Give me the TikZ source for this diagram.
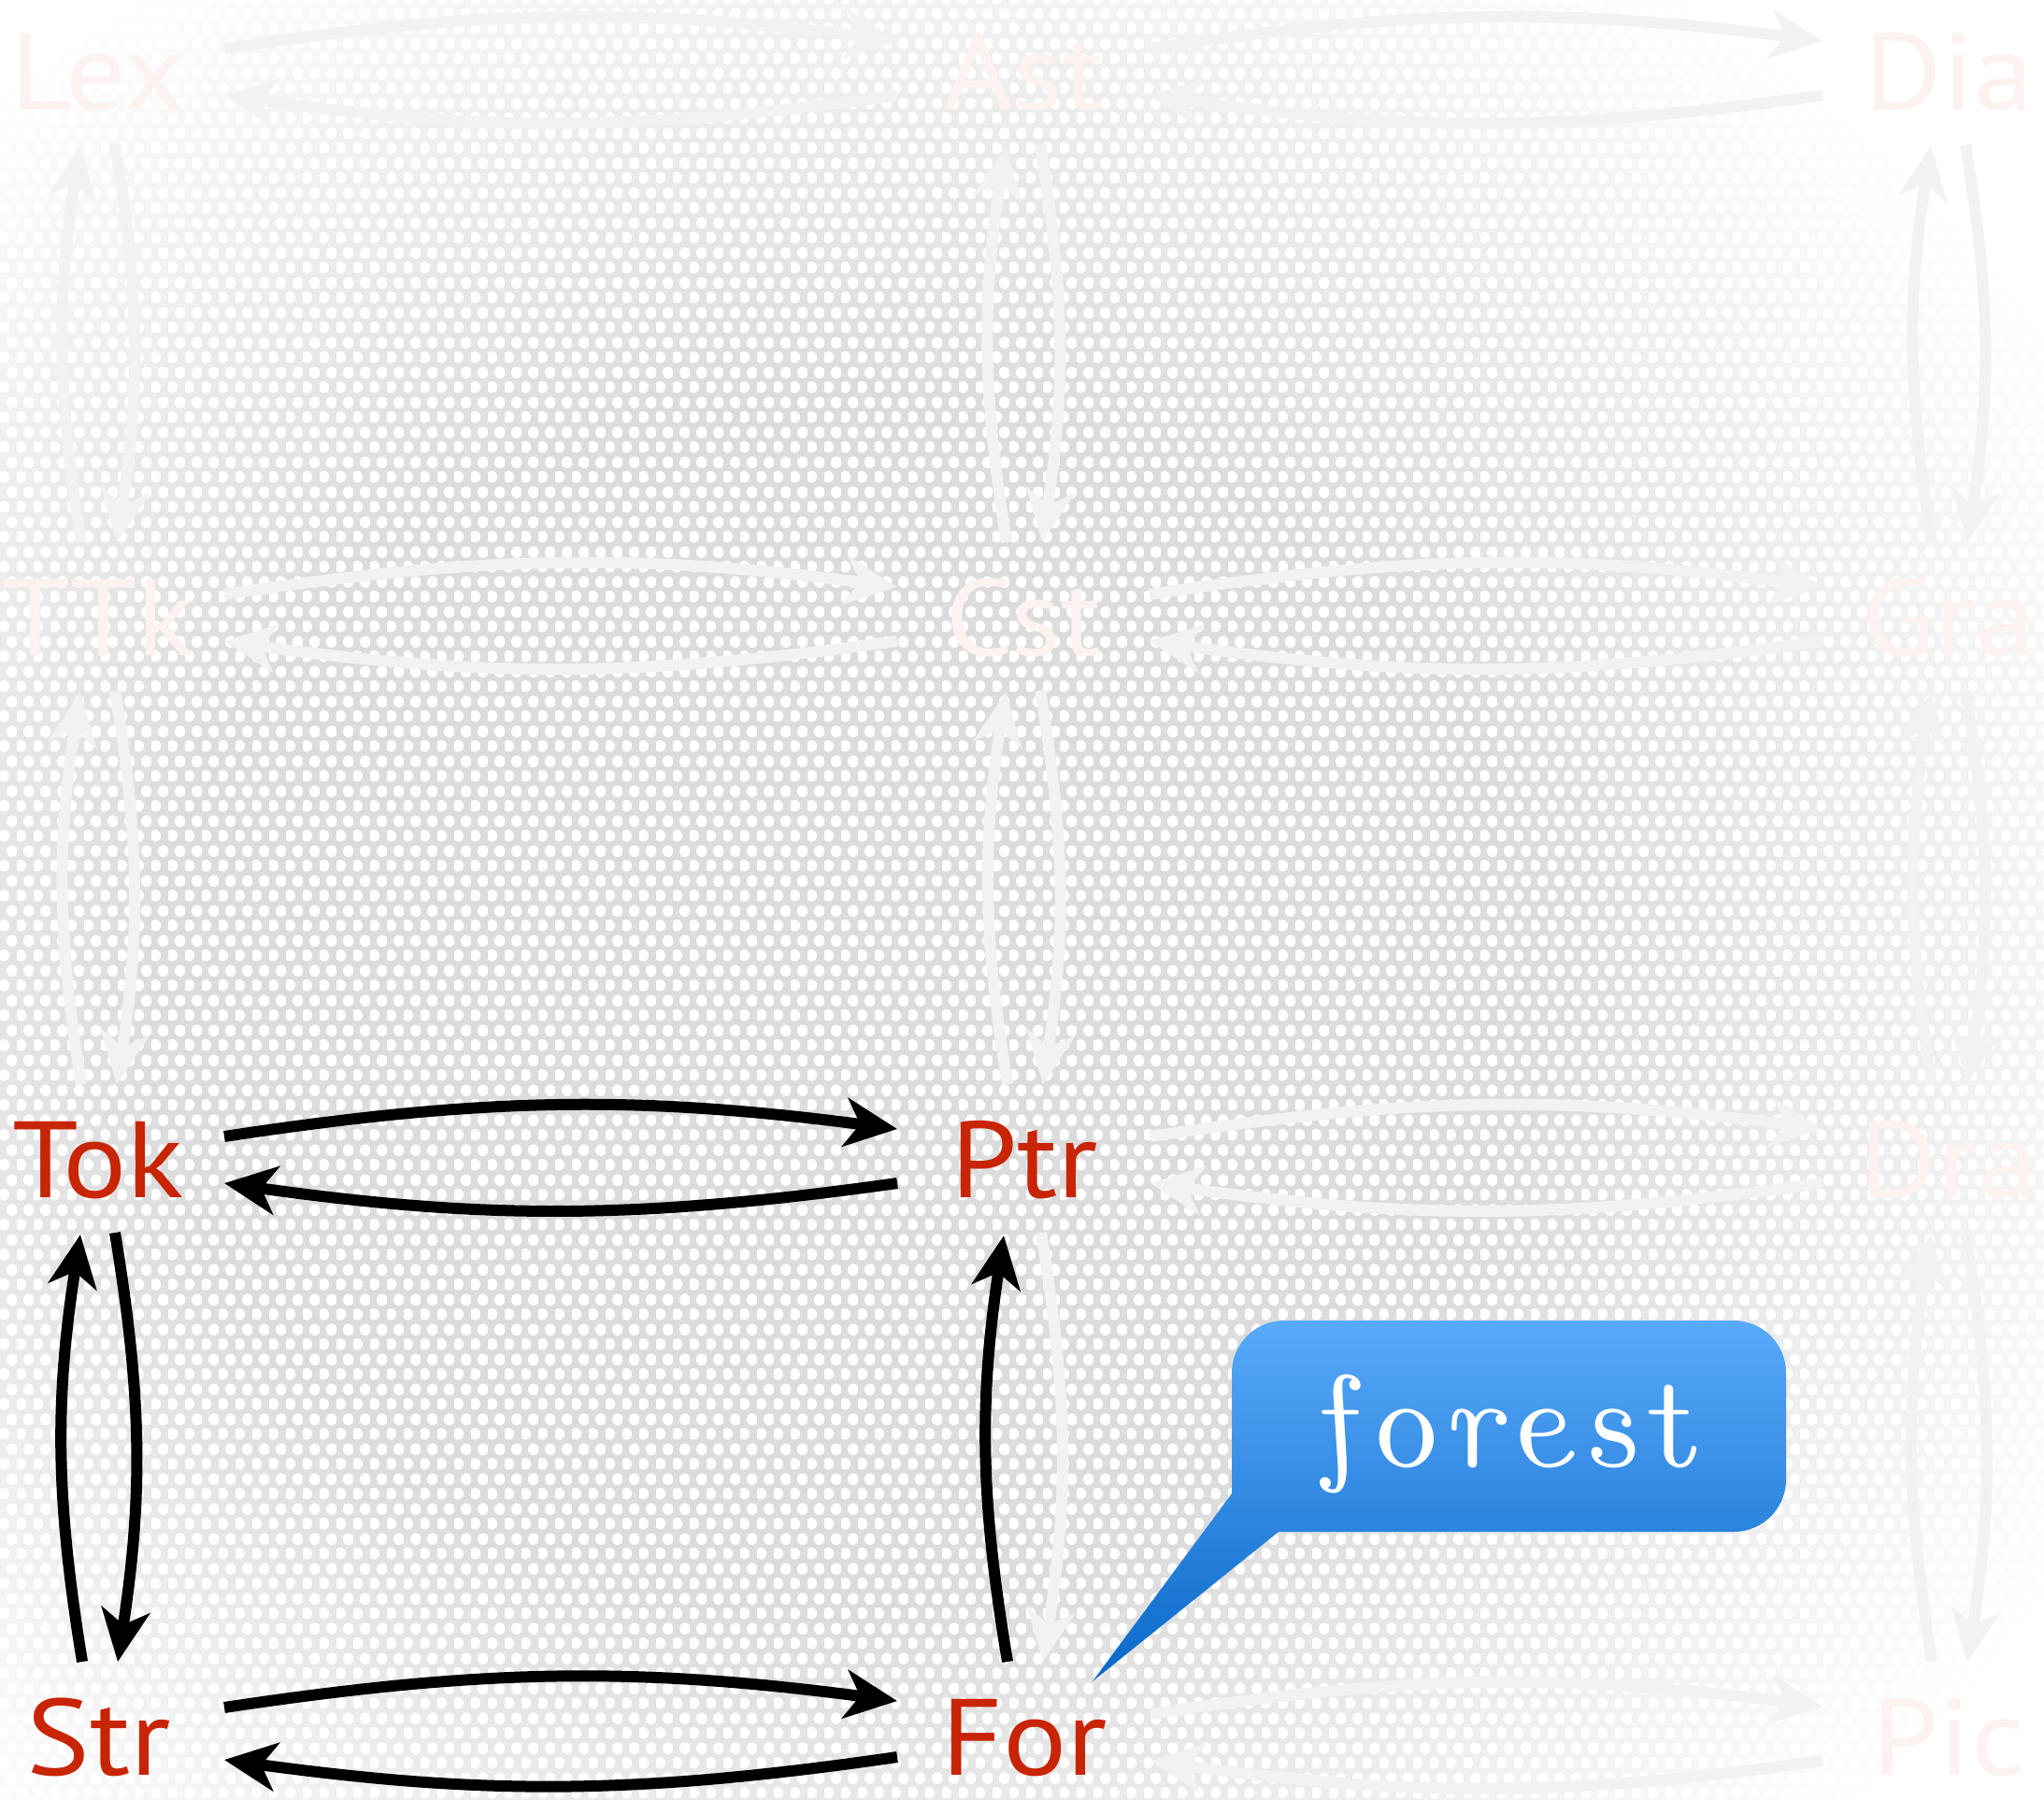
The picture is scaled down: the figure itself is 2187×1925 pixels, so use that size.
\documentclass[tikz,border=0pt]{standalone}
\usepackage{fontspec}
\newfontfamily\labfont{PT Sans}[FakeStretch=1.1]
\newfontfamily\forestfont{lmromanunsl10-regular.otf}[LetterSpace=6]
\usetikzlibrary{arrows.meta,calc,patterns}
\definecolor{labred}{RGB}{200,36,6}
\definecolor{bggray}{RGB}{220,220,220}
\definecolor{callA}{RGB}{88,170,250}
\definecolor{callC}{RGB}{10,104,200}
\pgfdeclareradialshading{bgshade}{\pgfpoint{-6bp}{-4bp}}{color(0bp)=(bggray); color(17bp)=(bggray); color(33bp)=(white); color(60bp)=(white)}
\pgfdeclarepatternformonly{meshdots}{\pgfpointorigin}{\pgfpoint{17.5pt}{32pt}}{\pgfpoint{17.5pt}{32pt}}{%
  \pgfpathellipse{\pgfpoint{4.375pt}{8pt}}{\pgfpoint{6pt}{0pt}}{\pgfpoint{0pt}{6.5pt}}%
  \pgfpathellipse{\pgfpoint{13.125pt}{24pt}}{\pgfpoint{6pt}{0pt}}{\pgfpoint{0pt}{6.5pt}}%
  \pgfusepath{fill}}
\tikzset{
  lab/.style={font=\labfont\fontsize{116}{116}\selectfont, text=labred, inner sep=0pt, text height=81pt, text depth=0pt},
  flab/.style={lab, text=labred!6},
  arr/.style={line width=12pt, draw=black, -{Stealth[length=56pt,width=52pt,inset=16pt]}},
  farr/.style={arr, draw=black!5},
}
\begin{document}
\begin{tikzpicture}[x=1pt,y=-1pt]
\useasboundingbox (0,0) rectangle (2187,1925);
\shade[shading=bgshade] (0,0) rectangle (2187,1925);
\fill[pattern=meshdots, pattern color=white] (0,0) rectangle (2187,1925);

% nodes
\node[flab] (Lex) at (105,77) {Lex};
\node[flab] (Ast) at (1095,77) {Ast};
\node[flab] (Dia) at (2085,77) {Dia};
\node[flab] (TTk) at (105,661) {TTk};
\node[flab] (Cst) at (1095,661) {Cst};
\node[flab] (Gra) at (2085,661) {Gra};
\node[lab] (Tok) at (105,1241) {Tok};
\node[lab] (Ptr) at (1096,1241) {Ptr};
\node[flab] (Dra) at (2085,1241) {Dra};
\node[lab] (Str) at (106,1859) {Str};
\node[lab] (For) at (1096,1859) {For};
\node[flab] (Pic) at (2085,1859) {Pic};

% faded connectors
\foreach \a/\b in {Lex/Ast,Ast/Dia,TTk/Cst,Cst/Gra,Ptr/Dra,For/Pic} {
  \draw[farr] ($(\a)+(135,-25)$) to[bend left=8] ($(\b)+(-135,-33)$);
  \draw[farr] ($(\b)+(-135,25)$) to[bend left=8] ($(\a)+(135,25)$);
}
\foreach \a/\b in {Lex/TTk,TTk/Tok,Ast/Cst,Cst/Ptr,Dia/Gra,Gra/Dra,Dra/Pic} {
  \draw[farr] ($(\a)+(18,78)$) to[bend left=9] ($(\b)+(20,-81)$);
  \draw[farr] ($(\b)+(-18,-81)$) to[bend left=9] ($(\a)+(-19,80)$);
}
\draw[farr] ($(Ptr)+(18,78)$) to[bend left=9] ($(For)+(20,-81)$);

% highlighted connectors
\draw[arr] ($(Tok)+(135,-25)$) to[bend left=8] ($(Ptr)+(-136,-33)$);
\draw[arr] ($(Ptr)+(-136,25)$) to[bend left=8] ($(Tok)+(135,25)$);
\draw[arr] ($(Str)+(134,-32)$) to[bend left=8] ($(For)+(-136,-39)$);
\draw[arr] ($(For)+(-136,21)$) to[bend left=8] ($(Str)+(134,24)$);
\draw[arr] ($(Tok)+(18,78)$) to[bend left=9] ($(Str)+(20,-81)$);
\draw[arr] ($(Str)+(-18,-81)$) to[bend left=9] ($(Tok)+(-19,80)$);
\draw[arr] ($(For)+(-18,-81)$) to[bend left=9] ($(Ptr)+(-22,81)$);

% callout
\shade[top color=callA, bottom color=callC]
  (1318,1598) -- (1169,1799) -- (1368,1639)
  [rounded corners=56pt] -- (1911,1639) -- (1911,1413) -- (1318,1413) -- (1318,1598)
  [sharp corners] -- cycle;
\node[font=\forestfont\fontsize{140}{140}\selectfont, text=white, anchor=base, inner sep=0pt] (fr) at (1614,1569) {forest};
\end{tikzpicture}
\end{document}
